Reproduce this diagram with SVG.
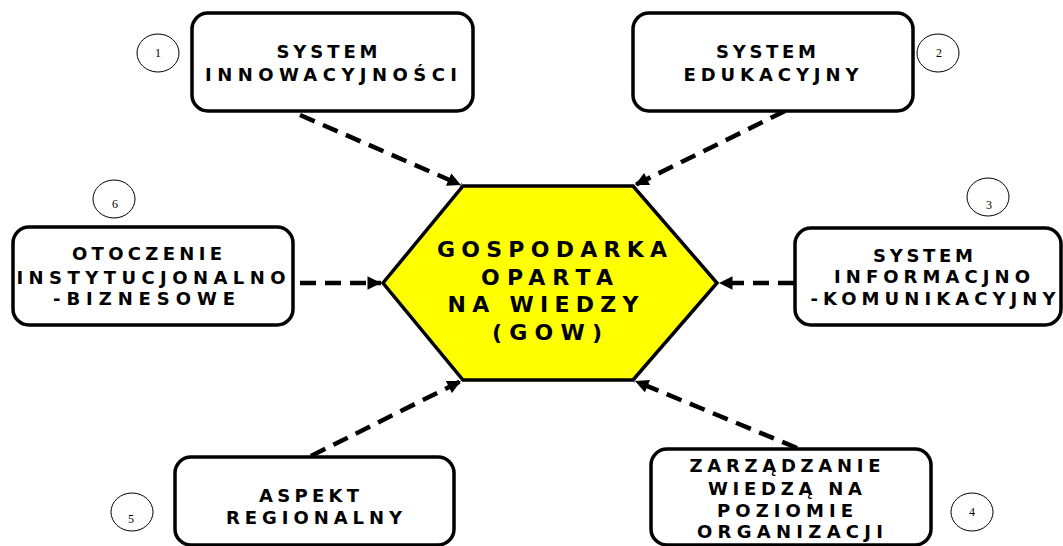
<svg xmlns="http://www.w3.org/2000/svg" width="1063" height="546" viewBox="0 0 1063 546">
<defs>
<style>
.box{fill:#fff;stroke:#000;stroke-width:3.5}
.hex{fill:#ffff00;stroke:#000;stroke-width:3.5;stroke-linejoin:miter}
.t{font-family:"DejaVu Sans",Verdana,sans-serif;font-weight:bold;font-size:18px;fill:#000;text-anchor:middle}
.th{font-family:"DejaVu Sans",Verdana,sans-serif;font-weight:bold;font-size:22px;fill:#000;text-anchor:middle}
.c{fill:#fff;stroke:#000;stroke-width:1}
.n{font-family:"Liberation Serif","Times New Roman",serif;font-size:12px;fill:#000;text-anchor:middle}
.e{stroke:#000;stroke-width:4.5;stroke-dasharray:16 9;fill:none}
</style>
<marker id="ah" viewBox="0 0 10 10" refX="10" refY="5" markerWidth="3.2" markerHeight="3" orient="auto" markerUnits="strokeWidth">
<path d="M0,0 L10,5 L0,10 z" fill="#000"/>
</marker>
</defs>
<rect width="1063" height="546" fill="#fff"/>

<g id="connectors">
<line class="e" x1="300" y1="115" x2="461" y2="185" marker-end="url(#ah)"/>
<line class="e" x1="785" y1="111" x2="635" y2="185" marker-end="url(#ah)"/>
<line class="e" x1="300" y1="283" x2="381" y2="283" marker-end="url(#ah)"/>
<line class="e" x1="794" y1="283" x2="719" y2="283" marker-end="url(#ah)"/>
<line class="e" x1="311" y1="456" x2="461" y2="381" marker-end="url(#ah)"/>
<line class="e" x1="797" y1="448" x2="635" y2="381" marker-end="url(#ah)"/>
</g>

<g id="center">
<polygon class="hex" points="463,186 633,186 717,283 633,380 463,380 383,283"/>
<text class="th" x="552" y="257" textLength="230" lengthAdjust="spacing">GOSPODARKA</text>
<text class="th" x="547" y="285" textLength="132" lengthAdjust="spacing">OPARTA</text>
<text class="th" x="543" y="312" textLength="191" lengthAdjust="spacing">NA WIEDZY</text>
<text class="th" x="547" y="340" textLength="110" lengthAdjust="spacing">(GOW)</text>
</g>

<g id="node1">
<rect class="box" x="192" y="13" width="281" height="98" rx="16"/>
<text class="t" x="327" y="58" textLength="101" lengthAdjust="spacing">SYSTEM</text>
<text class="t" x="331" y="81" textLength="252" lengthAdjust="spacing">INNOWACYJNOŚCI</text>
</g>
<g id="num1"><ellipse class="c" cx="158" cy="53" rx="21" ry="19"/><text class="n" x="158" y="57">1</text></g>

<g id="node2">
<rect class="box" x="633" y="13" width="280" height="98" rx="16"/>
<text class="t" x="766" y="58" textLength="100" lengthAdjust="spacing">SYSTEM</text>
<text class="t" x="771" y="81" textLength="175" lengthAdjust="spacing">EDUKACYJNY</text>
</g>
<g id="num2"><ellipse class="c" cx="938" cy="53" rx="21" ry="19"/><text class="n" x="939" y="57">2</text></g>

<g id="node3">
<rect class="box" x="795" y="228" width="266" height="97" rx="16"/>
<text class="t" x="923" y="262" textLength="100" lengthAdjust="spacing">SYSTEM</text>
<text class="t" x="932" y="283" textLength="196" lengthAdjust="spacing">INFORMACJNO</text>
<text class="t" x="933" y="305" textLength="245" lengthAdjust="spacing">-KOMUNIKACYJNY</text>
</g>
<g id="num3"><ellipse class="c" cx="988" cy="197" rx="21" ry="19"/><text class="n" x="989" y="209">3</text></g>

<g id="node4">
<rect class="box" x="651" y="449" width="280" height="96" rx="16"/>
<text class="t" x="785" y="472" textLength="191" lengthAdjust="spacing">ZARZĄDZANIE</text>
<text class="t" x="785" y="495" textLength="154" lengthAdjust="spacing">WIEDZĄ NA</text>
<text class="t" x="785" y="517" textLength="136" lengthAdjust="spacing">POZIOMIE</text>
<text class="t" x="790" y="538" textLength="186" lengthAdjust="spacing">ORGANIZACJI</text>
</g>
<g id="num4"><ellipse class="c" cx="972" cy="512" rx="21" ry="19"/><text class="n" x="972" y="516">4</text></g>

<g id="node5">
<rect class="box" x="175" y="457" width="279" height="88" rx="16"/>
<text class="t" x="309" y="502" textLength="100" lengthAdjust="spacing">ASPEKT</text>
<text class="t" x="314" y="524" textLength="176" lengthAdjust="spacing">REGIONALNY</text>
</g>
<g id="num5"><ellipse class="c" cx="132" cy="512" rx="21" ry="19"/><text class="n" x="131" y="523">5</text></g>

<g id="node6">
<rect class="box" x="13" y="227" width="280" height="98" rx="16"/>
<text class="t" x="147" y="260" textLength="150" lengthAdjust="spacing">OTOCZENIE</text>
<text class="t" x="151" y="284" textLength="269" lengthAdjust="spacing">INSTYTUCJONALNO</text>
<text class="t" x="144" y="305" textLength="182" lengthAdjust="spacing">-BIZNESOWE</text>
</g>
<g id="num6"><ellipse class="c" cx="114" cy="199" rx="21" ry="19"/><text class="n" x="115" y="208">6</text></g>
</svg>
